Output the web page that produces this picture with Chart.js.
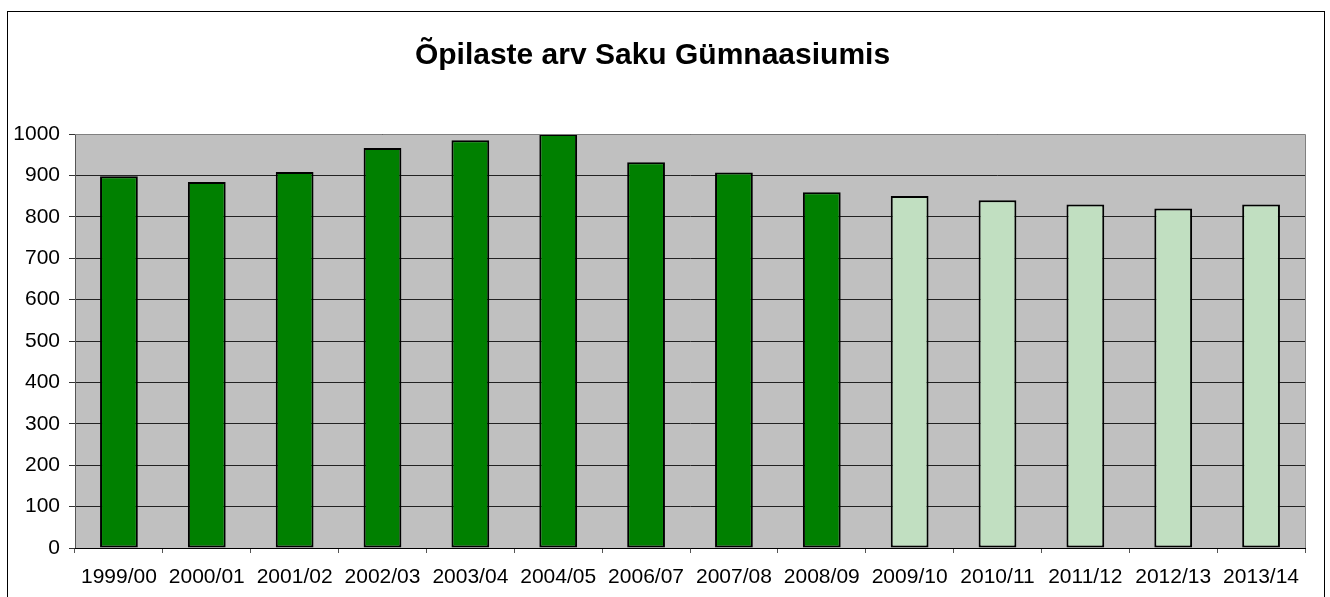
<!DOCTYPE html>
<html>
<head>
<meta charset="utf-8">
<script src="https://cdn.jsdelivr.net/npm/chart.js@4/dist/chart.umd.min.js"></script>
<style>
  html, body { margin: 0; padding: 0; background: #fff; }
  #wrap { width: 1330px; height: 597px; }
</style>
</head>
<body>
<div id="wrap"><canvas id="c" width="1330" height="597"></canvas></div>
<script>
// andmed
let aastad = ['1999/00', '2000/01', '2001/02', '2002/03', '2003/04', '2004/05', '2006/07',
              '2007/08', '2008/09', '2009/10', '2010/11', '2011/12', '2012/13', '2013/14'];
let opilasi = [898, 884, 908, 966, 985, 1000, 932, 907, 859, 850, 840, 830, 820, 830];
let prognoos = ['2009/10', '2010/11', '2011/12', '2012/13', '2013/14'];
let yTicks = [0, 100, 200, 300, 400, 500, 600, 700, 800, 900, 1000];

let tumeRoheline = '#008000',
    heleRoheline = '#c1dfc1';

// tume = tegelik, hele = prognoos
let barColors = aastad.map(a => prognoos.includes(a) ? heleRoheline : tumeRoheline);

// hall taust joonisealale + raam ümber kogu graafiku
const taust = {
    id: 'taust',
    beforeDraw(chart) {
        let { ctx, chartArea } = chart;
        ctx.save();
        ctx.fillStyle = '#c0c0c0';
        ctx.fillRect(chartArea.left, chartArea.top, chartArea.right - chartArea.left, chartArea.bottom - chartArea.top);
        ctx.restore();
    },
    afterDraw(chart) {
        let { ctx, chartArea } = chart;
        ctx.save();
        ctx.strokeStyle = '#808080';
        ctx.lineWidth = 1;
        ctx.beginPath();
        ctx.moveTo(chartArea.left, chartArea.top + 0.5);
        ctx.lineTo(chartArea.right + 0.5, chartArea.top + 0.5);
        ctx.lineTo(chartArea.right + 0.5, chartArea.bottom);
        ctx.stroke();
        ctx.strokeStyle = '#000';
        ctx.strokeRect(7.5, 11.5, 1317, 600);
        ctx.restore();
    }
};

Chart.defaults.font.family = '"Liberation Sans", Arial, sans-serif';
Chart.defaults.color = '#000';

new Chart(document.getElementById('c').getContext('2d'), {
    type: 'bar',
    data: {
        labels: aastad,
        datasets: [{
            label: 'Õpilaste arv',
            data: opilasi,
            backgroundColor: barColors,
            borderColor: '#000',
            borderWidth: 2,
            borderSkipped: false,
            barPercentage: 0.86,
            categoryPercentage: 0.5
        }]
    },
    options: {
        responsive: false,
        animation: false,
        layout: { padding: { left: 0, right: 25, top: 0, bottom: 0 } },
        plugins: {
            legend: { display: false },
            tooltip: { enabled: false },
            title: {
                display: true,
                text: 'Õpilaste arv Saku Gümnaasiumis',
                font: { size: 30, weight: 'bold' },
                color: '#000',
                padding: { top: 38, bottom: 60 }
            }
        },
        scales: {
            y: {
                min: 0,
                max: 1000,
                afterFit: s => { s.width = 75; },
                afterBuildTicks: s => { s.ticks = yTicks.map(v => ({ value: v })); },
                ticks: { font: { size: 21 }, padding: 9, color: '#000', callback: v => String(v) },
                grid: { color: '#222', lineWidth: 1, tickLength: 6, tickColor: '#333' },
                border: { color: '#555', width: 1 }
            },
            x: {
                afterFit: s => { s.height = 49; },
                ticks: { font: { size: 21 }, padding: 12, color: '#000', maxRotation: 0, autoSkip: false },
                grid: { drawOnChartArea: false, tickLength: 5, tickColor: '#555', offset: true },
                border: { color: '#000', width: 1 }
            }
        }
    },
    plugins: [taust]
});
</script>
</body>
</html>
